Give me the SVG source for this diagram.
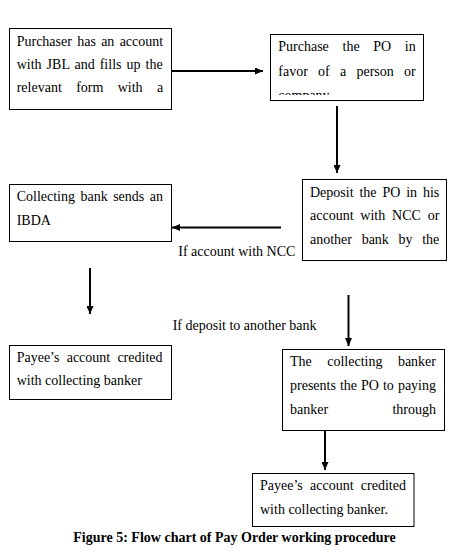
<svg xmlns="http://www.w3.org/2000/svg" width="456" height="556" viewBox="0 0 456 556">
<style>
.box{fill:#fff;stroke:#000;stroke-width:1}
.t{font-family:"Liberation Serif","Times New Roman",serif;font-size:14px;fill:#000}
.lbl{font-family:"Liberation Serif","Times New Roman",serif;font-size:14px;fill:#000}
.cap{font-family:"Liberation Serif","Times New Roman",serif;font-size:14px;font-weight:bold;fill:#000}
.arr{stroke:#000;stroke-width:2;fill:none;marker-end:url(#ah)}
</style>
<defs>
<marker id="ah" markerUnits="userSpaceOnUse" markerWidth="9" markerHeight="7" refX="8" refY="3.5" orient="auto">
<path d="M0,0 L8,3.5 L0,7 z" fill="#000"/>
</marker>
<clipPath id="c2"><rect x="271" y="35" width="152" height="60"/></clipPath>
</defs>
<rect width="456" height="556" fill="#fff"/>
<g id="n1">
<rect class="box" x="9.5" y="28.5" width="162" height="81"/>
<text class="t" x="16.7" y="46" word-spacing="1.79">Purchaser has an account</text>
<text class="t" x="16.7" y="69" word-spacing="1.53">with JBL and fills up the</text>
<text class="t" x="16.7" y="92" word-spacing="10.86">relevant form with a</text>
</g>
<g id="n2">
<rect class="box" x="270.5" y="34.5" width="153" height="66"/>
<g clip-path="url(#c2)">
<text class="t" x="278.3" y="51" word-spacing="10.16">Purchase the PO in</text>
<text class="t" x="278.3" y="75.5" word-spacing="6.75">favor of a person or</text>
<text class="t" x="278.3" y="100">company</text>
</g>
</g>
<g id="n3">
<rect class="box" x="302.5" y="179.5" width="144" height="81"/>
<text class="t" x="310" y="197" word-spacing="2.38">Deposit the PO in his</text>
<text class="t" x="310" y="219.5" word-spacing="3.31">account with NCC or</text>
<text class="t" x="310" y="243.5" word-spacing="6.16">another bank by the</text>
</g>
<g id="n4">
<rect class="box" x="9.5" y="184.5" width="162" height="57"/>
<text class="t" x="16.7" y="201" word-spacing="1.97">Collecting bank sends an</text>
<text class="t" x="16.7" y="225">IBDA</text>
</g>
<g id="n5">
<rect class="box" x="282.5" y="349.5" width="162" height="81"/>
<text class="t" x="290" y="366" word-spacing="11.96">The collecting banker</text>
<text class="t" x="290" y="390" word-spacing="0.53">presents the PO to paying</text>
<text class="t" x="290" y="413.5" word-spacing="60.85">banker through</text>
</g>
<g id="n6">
<rect class="box" x="9.5" y="345.5" width="162" height="54"/>
<text class="t" x="16.7" y="362" word-spacing="3.71">Payee’s account credited</text>
<text class="t" x="16.7" y="385">with collecting banker</text>
</g>
<g id="n7">
<rect class="box" x="252.5" y="473.5" width="161.5" height="53"/>
<text class="t" x="260" y="489.5" word-spacing="3.76">Payee’s account credited</text>
<text class="t" x="260" y="513.5">with collecting banker.</text>
</g>
<g id="connectors">
<line class="arr" x1="172" y1="71" x2="263" y2="71"/>
<line class="arr" x1="337" y1="106" x2="337" y2="173"/>
<line class="arr" x1="281" y1="227.5" x2="172" y2="227.5"/>
<line class="arr" x1="90" y1="268" x2="90" y2="314"/>
<line class="arr" x1="348.5" y1="295" x2="348.5" y2="346"/>
<line class="arr" x1="325" y1="431" x2="325" y2="470"/>
<text class="lbl" x="178.3" y="256">If account with NCC</text>
<text class="lbl" x="172.7" y="329.5">If deposit to another bank</text>
</g>
<text class="cap" x="73.3" y="541.7">Figure 5: Flow chart of Pay Order working procedure</text>
</svg>
